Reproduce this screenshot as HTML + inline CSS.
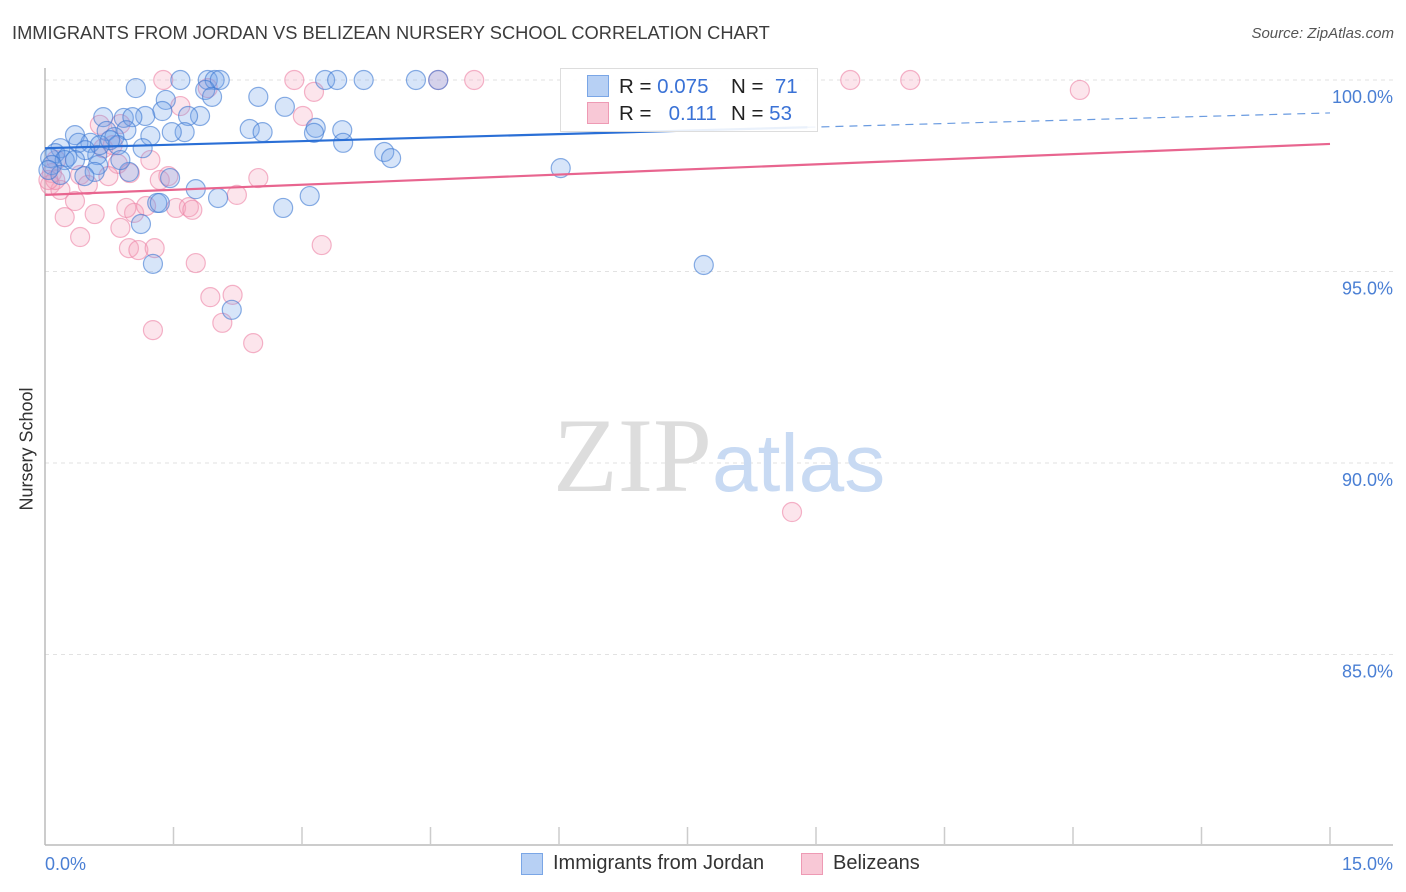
<!DOCTYPE html>
<html><head><meta charset="utf-8">
<style>
body{margin:0;background:#fff;font-family:"Liberation Sans",sans-serif;}
#wrap{position:relative;width:1406px;height:892px;overflow:hidden;}
.t{position:absolute;white-space:nowrap;}
</style></head>
<body>
<div id="wrap">
<div class="t" style="left:12px;top:22px;font-size:18.3px;color:#3c3c3c">IMMIGRANTS FROM JORDAN VS BELIZEAN NURSERY SCHOOL CORRELATION CHART</div>
<div class="t" style="right:12px;top:25px;font-size:15px;color:#555;font-style:italic">Source: ZipAtlas.com</div>
<div class="t" style="left:-28px;top:445px;font-size:18px;color:#333;transform:rotate(-90deg);width:110px;text-align:center">Nursery School</div>
<svg id="plot" width="1406" height="892" style="position:absolute;left:0;top:0"></svg>
<div class="t" style="left:553px;top:395px;font-size:106px;font-family:'Liberation Serif',serif;color:#ddd">ZIP<span style="font-family:'Liberation Sans',sans-serif;color:#c8daf3;font-size:82px">atlas</span></div>
<div style="position:absolute;left:560px;top:68px;width:256px;height:62px;border:1px solid #ddd;background:rgba(255,255,255,0.9)">
  <div style="position:absolute;left:26px;top:6px;width:20px;height:20px;background:#b7d0f4;border:1px solid #7aa6e6"></div>
  <div class="t" style="left:58px;top:6px;font-size:20.5px;color:#222">R = <span style="color:#3a72d6">0.075</span></div>
  <div class="t" style="left:170px;top:6px;font-size:20.5px;color:#222">N = &nbsp;<span style="color:#3a72d6">71</span></div>
  <div style="position:absolute;left:26px;top:33px;width:20px;height:20px;background:#f8c8d6;border:1px solid #ee9ab4"></div>
  <div class="t" style="left:58px;top:33px;font-size:20.5px;color:#222">R = &nbsp;&nbsp;<span style="color:#3a72d6">0.111</span></div>
  <div class="t" style="left:170px;top:33px;font-size:20.5px;color:#222">N = <span style="color:#3a72d6">53</span></div>
</div>
<div style="position:absolute;left:521px;top:853px">
  <div style="position:absolute;left:0;top:0;width:20px;height:20px;background:#b7d0f4;border:1px solid #7aa6e6"></div>
  <div class="t" style="left:32px;top:-1px;font-size:20px;color:#333">Immigrants from Jordan</div>
</div>
<div style="position:absolute;left:801px;top:853px">
  <div style="position:absolute;left:0;top:0;width:20px;height:20px;background:#f8c8d6;border:1px solid #ee9ab4"></div>
  <div class="t" style="left:32px;top:-1px;font-size:20px;color:#333">Belizeans</div>
</div>
</div>
<script>
const blueX=[1.06,1.58,1.90,1.98,2.04,3.27,3.41,3.72,4.33,4.59,1.87,1.95,2.49,1.41,2.80,1.37,1.17,0.68,0.92,1.02,1.81,1.67,1.63,1.48,1.23,0.35,2.39,2.54,3.16,3.14,3.47,3.48,3.96,4.04,0.72,0.95,0.81,0.53,0.39,0.18,0.12,0.06,0.26,0.61,0.85,1.14,0.62,0.98,0.58,0.46,1.46,1.76,2.02,1.31,1.34,2.78,3.09,1.12,1.26,2.18,6.02,7.69,0.64,0.47,0.23,0.08,0.76,0.88,0.18,0.04,0.35];
const blueY=[99.79,100,100,100,100,100,100,100,100,100,99.74,99.56,99.56,99.48,99.30,99.19,99.06,99.03,99.01,99.03,99.06,99.06,98.64,98.64,98.54,98.56,98.72,98.64,98.75,98.62,98.69,98.36,98.12,97.96,98.67,98.69,98.51,98.36,98.36,98.22,98.09,97.96,97.99,98.04,98.30,98.22,97.78,97.60,97.60,97.49,97.44,97.15,96.92,96.79,96.79,96.66,96.97,96.24,95.20,94.00,97.70,95.17,98.30,98.17,97.91,97.78,98.43,97.91,97.52,97.65,97.91];
const pinkX=[1.38,2.91,4.59,5.01,9.40,10.10,12.08,3.14,1.90,1.58,3.01,0.88,0.64,0.68,0.79,1.23,0.85,0.74,0.41,0.13,0.08,0.06,0.18,0.23,0.35,0.58,0.41,0.50,0.99,1.34,1.44,1.04,0.95,1.18,1.53,1.68,1.72,2.24,2.49,0.88,0.98,1.09,1.28,1.76,1.93,2.19,2.07,1.26,2.43,3.23,8.72,0.12,0.04];
const pinkY=[100,100,100,100,100,100,99.74,99.69,99.79,99.32,99.06,98.85,98.83,98.22,98.30,97.91,97.81,97.49,97.52,97.91,97.57,97.26,97.13,96.42,96.84,96.50,95.90,97.26,97.57,97.39,97.49,96.53,96.66,96.71,96.66,96.68,96.61,97.00,97.44,96.14,95.61,95.56,95.61,95.22,94.33,94.39,93.66,93.47,93.13,95.69,88.72,97.39,97.39];
const blueTrend=[98.22,99.14];
const pinkTrend=[97.00,98.33];
const yTicks=[100,95,90,85];
const yTickLabels=["100.0%","95.0%","90.0%","85.0%"];
const xTickCount=10;
const xMax=15;

const X0=45,X1=1330,Y100=80,PXPER=38.3;
const sx=v=>X0+(v/xMax)*(X1-X0);
const sy=v=>Y100+(100-v)*PXPER;
const svg=document.getElementById('plot');
const NS='http://www.w3.org/2000/svg';
function mk(tag,attrs){const e=document.createElementNS(NS,tag);for(const k in attrs)e.setAttribute(k,attrs[k]);svg.appendChild(e);return e;}

yTicks.forEach((t,i)=>{
  const g=mk('line',{x1:X0,x2:1393,y1:sy(t),y2:sy(t),stroke:'#e2e2e2','stroke-dasharray':'4,4'});
  
  
  const tx=mk('text',{x:1393,y:sy(t)+23,'text-anchor':'end','font-size':18,fill:'#4a7fd4','font-family':'Liberation Sans, sans-serif'});
  tx.textContent=yTickLabels[i];
  
  
});
const ax=mk('line',{x1:X0,x2:X0,y1:68,y2:845,stroke:'#bbb','stroke-width':1.5});


const bx=mk('line',{x1:X0,x2:1393,y1:845,y2:845,stroke:'#bbb','stroke-width':1.5});


for(let i=1;i<=xTickCount;i++){
  const x=sx(i*xMax/xTickCount);
  const tk=mk('line',{x1:x,x2:x,y1:827,y2:845,stroke:'#ccc','stroke-width':1.5});
  
  
}
const xl0=mk('text',{x:45,y:870,'font-size':18,fill:'#4a7fd4','font-family':'Liberation Sans, sans-serif'});
xl0.textContent='0.0%';


const xl1=mk('text',{x:1393,y:870,'text-anchor':'end','font-size':18,fill:'#4a7fd4','font-family':'Liberation Sans, sans-serif'});
xl1.textContent='15.0%';



function pts(xs,ys,fill,stroke,name){
  xs.forEach((v,i)=>{
    const c=mk('circle',{cx:sx(v),cy:sy(ys[i]),r:9.5,fill:fill,stroke:stroke,'stroke-width':1.2});
    
    
  });
}
pts(pinkX,pinkY,'rgba(244,160,188,0.28)','rgba(236,130,165,0.6)','belizean-point');
pts(blueX,blueY,'rgba(110,160,232,0.28)','rgba(60,120,210,0.6)','jordan-point');

const split=8.9;
const bf=x=>blueTrend[0]+(blueTrend[1]-blueTrend[0])*x/xMax;
const bl=mk('line',{x1:sx(0),y1:sy(bf(0)),x2:sx(split),y2:sy(bf(split)),stroke:'#2a6fd6','stroke-width':2.2});


const bd=mk('line',{x1:sx(split),y1:sy(bf(split)),x2:sx(xMax),y2:sy(bf(xMax)),stroke:'#6a9be0','stroke-width':1.2,'stroke-dasharray':'8,6'});


const pl=mk('line',{x1:sx(0),y1:sy(pinkTrend[0]),x2:sx(xMax),y2:sy(pinkTrend[1]),stroke:'#e8658f','stroke-width':2.2});


</script>
</body></html>
